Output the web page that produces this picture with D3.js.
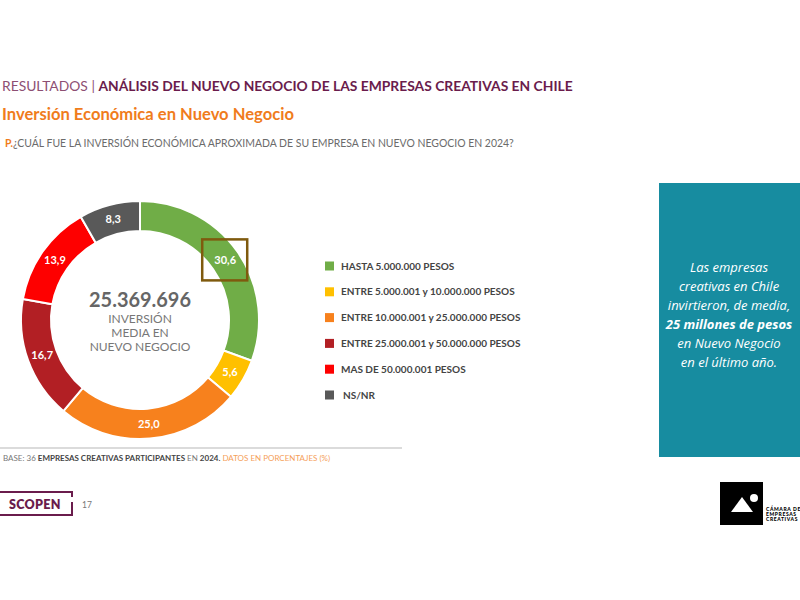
<!DOCTYPE html>
<html><head><meta charset="utf-8">
<script src="https://cdn.jsdelivr.net/npm/d3@7/dist/d3.min.js"></script>
<style>
html,body{margin:0;padding:0;background:#fff;}
svg{display:block;}
</style></head>
<body>
<svg id="chart" width="800" height="600"></svg>
<script>
// ---- data ----
const categories = [
  "HASTA 5.000.000 PESOS",
  "ENTRE 5.000.001 y 10.000.000 PESOS",
  "ENTRE 10.000.001 y 25.000.000 PESOS",
  "ENTRE 25.000.001 y 50.000.000 PESOS",
  "MAS DE 50.000.001 PESOS",
  "NS/NR"
];
const values = [30.6, 5.6, 25.0, 16.7, 13.9, 8.3];
const colors = ["#70ad47", "#ffc000", "#f7811d", "#b21f24", "#fe0000", "#595959"];
const centerValue = "25.369.696";
const centerLabel = ["INVERSIÓN", "MEDIA EN", "NUEVO NEGOCIO"];
const highlightIndex = 0;
const calloutLines = ["Las empresas", "creativas en Chile", "invirtieron, de media,", "25 millones de pesos", "en Nuevo Negocio", "en el último año."];
const calloutBold = [false, false, false, true, false, false];

const svg = d3.select("#chart");
const FONT = "Lato, 'Open Sans', sans-serif";

function fitText(sel, w) {
  const n = sel.node();
  const len = n.getComputedTextLength();
  const fs = parseFloat(sel.attr("font-size"));
  sel.attr("font-size", (fs * w / len).toFixed(2));
}

// ---- header ----
const h1 = svg.append("text").attr("x", 2).attr("y", 91).attr("font-family", FONT).attr("font-size", 14);
h1.append("tspan").attr("fill", "#8d4f73").text("RESULTADOS | ");
h1.append("tspan").attr("fill", "#6a1c4c").attr("font-weight", 700).text("ANÁLISIS DEL NUEVO NEGOCIO DE LAS EMPRESAS CREATIVAS EN CHILE");
fitText(h1, 571);

const h2 = svg.append("text").attr("x", 2).attr("y", 120).attr("font-family", FONT).attr("font-size", 17)
  .attr("font-weight", 700).attr("fill", "#f07c1c").text("Inversión Económica en Nuevo Negocio");
fitText(h2, 292);

const h3 = svg.append("text").attr("x", 5).attr("y", 147).attr("font-family", FONT).attr("font-size", 10);
h3.append("tspan").attr("fill", "#f07c1c").attr("font-weight", 700).text("P.");
h3.append("tspan").attr("fill", "#6b6b6b").text("¿CUÁL FUE LA INVERSIÓN ECONÓMICA APROXIMADA DE SU EMPRESA EN NUEVO NEGOCIO EN 2024?");
fitText(h3, 509);

// ---- donut ----
const cx = 140, cy = 320, rOuter = 119, rInner = 89;
const pie = d3.pie().sort(null).value(d => d)(values);
const arc = d3.arc().innerRadius(rInner).outerRadius(rOuter);
const labelArc = d3.arc().innerRadius((rInner + rOuter) / 2).outerRadius((rInner + rOuter) / 2);
const g = svg.append("g").attr("transform", `translate(${cx},${cy})`);
g.selectAll("path.slice").data(pie).enter().append("path")
  .attr("class", "slice")
  .attr("d", arc)
  .attr("fill", (d, i) => colors[i])
  .attr("stroke", "#fff").attr("stroke-width", 2);
const fmt = v => d3.format(".1f")(v).replace(".", ",");
g.selectAll("text.lbl").data(pie).enter().append("text")
  .attr("class", "lbl")
  .attr("transform", d => `translate(${labelArc.centroid(d)})`)
  .attr("text-anchor", "middle").attr("dy", "0.36em")
  .attr("font-family", FONT).attr("font-weight", 700).attr("font-size", 11)
  .attr("fill", "#fff").text(d => fmt(d.data));

// highlight box around the first label
const hc = labelArc.centroid(pie[highlightIndex]);
g.append("rect").attr("x", hc[0] - 23).attr("y", hc[1] - 21).attr("width", 45).attr("height", 41)
  .attr("fill", "none").attr("stroke", "#7f5a0e").attr("stroke-width", 2.5);

// center text
const cv = g.append("text").attr("text-anchor", "middle").attr("y", -13)
  .attr("font-family", FONT).attr("font-weight", 700).attr("font-size", 21).attr("fill", "#666")
  .text(centerValue);
fitText(cv, 102);
centerLabel.forEach((t, i) => {
  g.append("text").attr("text-anchor", "middle").attr("y", 3 + i * 14)
    .attr("font-family", FONT).attr("font-size", 12).attr("fill", "#777").text(t);
});

// ---- legend ----
const yLeg = d3.scalePoint().domain(categories).range([266, 395]);
const leg = svg.append("g");
categories.forEach((c, i) => {
  leg.append("rect").attr("x", 325).attr("y", yLeg(c) - 4.5).attr("width", 9).attr("height", 9).attr("fill", colors[i]);
  leg.append("text").attr("x", i === 5 ? 343 : 341).attr("y", yLeg(c) + 3.5)
    .attr("font-family", FONT).attr("font-weight", 700).attr("font-size", 10).attr("fill", "#444").text(c);
});

// ---- callout box ----
svg.append("rect").attr("x", 659).attr("y", 183).attr("width", 141).attr("height", 274).attr("fill", "#178ca0");
calloutLines.forEach((t, i) => {
  svg.append("text").attr("x", 729).attr("y", 272 + i * 19).attr("text-anchor", "middle")
    .attr("font-family", "'Open Sans', sans-serif").attr("font-style", "italic").attr("font-size", 13)
    .attr("font-weight", calloutBold[i] ? 700 : 400).attr("fill", "#fff").text(t);
});

// ---- footer ----
svg.append("line").attr("x1", 0).attr("x2", 402).attr("y1", 448).attr("y2", 448).attr("stroke", "#cfcfcf").attr("stroke-width", 1.5);
const ft = svg.append("text").attr("x", 3).attr("y", 461).attr("font-family", FONT).attr("font-size", 7);
ft.append("tspan").attr("fill", "#777").text("BASE: 36 ");
ft.append("tspan").attr("fill", "#444").attr("font-weight", 700).text("EMPRESAS CREATIVAS PARTICIPANTES");
ft.append("tspan").attr("fill", "#777").text(" EN ");
ft.append("tspan").attr("fill", "#444").attr("font-weight", 700).text("2024.");
ft.append("tspan").attr("fill", "#f5a05a").text(" DATOS EN PORCENTAJES (%)");
fitText(ft, 327);

// SCOPEN mark
svg.append("path").attr("d", "M0,492 H72 V497 M72,502 V515 H0").attr("fill", "none").attr("stroke", "#6a1c4c").attr("stroke-width", 2);
svg.append("text").attr("x", 9).attr("y", 509).attr("font-family", FONT).attr("font-weight", 800).attr("font-size", 12.5)
  .attr("fill", "#6a1c4c").attr("letter-spacing", 0.3).text("SCOPEN");
svg.append("text").attr("x", 82).attr("y", 508).attr("font-family", FONT).attr("font-size", 8.5).attr("fill", "#777").text("17");

// logo
svg.append("rect").attr("x", 720).attr("y", 482).attr("width", 43).attr("height", 43).attr("fill", "#000");
svg.append("path").attr("d", "M742,497 L753,512 L731,512 Z").attr("fill", "#fff");
svg.append("circle").attr("cx", 754).attr("cy", 498).attr("r", 4).attr("fill", "#fff");
["CÁMARA DE", "EMPRESAS", "CREATIVAS"].forEach((t, i) => {
  svg.append("text").attr("x", 766).attr("y", 511 + i * 5).attr("font-family", FONT).attr("font-weight", 900)
    .attr("font-size", 5).attr("letter-spacing", 0.6).attr("fill", "#000").text(t);
});
</script>
</body></html>
